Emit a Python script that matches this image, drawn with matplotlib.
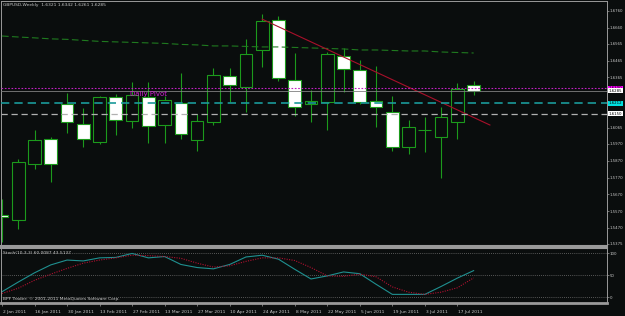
import matplotlib
matplotlib.use("Agg")
import matplotlib.pyplot as plt
from matplotlib.transforms import blended_transform_factory

# weekly GBPUSD bars, 2 Jan 2011 .. 24 Jul 2011
opens = [1.5547, 1.5517, 1.5850, 1.5999, 1.6207, 1.6088, 1.5981, 1.6249, 1.6106, 1.6249,
         1.6082, 1.6213, 1.5993, 1.6100, 1.6374, 1.6308, 1.6528, 1.6706, 1.6350, 1.6207,
         1.6219, 1.6492, 1.6409, 1.6225, 1.6160, 1.5951, 1.6053, 1.6011, 1.6100, 1.6321]
highs = [1.5642, 1.5880, 1.6053, 1.6011, 1.6272, 1.6183, 1.6255, 1.6267, 1.6338, 1.6338,
         1.6255, 1.6391, 1.6148, 1.6421, 1.6421, 1.6594, 1.6742, 1.6730, 1.6510, 1.6290,
         1.6516, 1.6540, 1.6469, 1.6433, 1.6255, 1.6112, 1.6130, 1.6189, 1.6332, 1.6342]
lows = [1.5387, 1.5464, 1.5821, 1.5743, 1.6035, 1.5951, 1.5969, 1.6023, 1.6064, 1.5975,
        1.5975, 1.5999, 1.5928, 1.6082, 1.6219, 1.6160, 1.6427, 1.6344, 1.6136, 1.6100,
        1.6053, 1.6278, 1.6207, 1.6070, 1.5928, 1.5910, 1.5922, 1.5767, 1.5999, 1.6261]
closes = [1.5535, 1.5862, 1.5993, 1.5850, 1.6100, 1.5999, 1.6249, 1.6112, 1.6261, 1.6076,
          1.6231, 1.6029, 1.6106, 1.6380, 1.6320, 1.6504, 1.6701, 1.6362, 1.6189, 1.6225,
          1.6504, 1.6415, 1.6219, 1.6189, 1.5951, 1.6070, 1.6053, 1.6130, 1.6296, 1.6285]

# long dashed green average
ma_line = [1.6611, 1.6605, 1.6600, 1.6594, 1.6591, 1.6585, 1.6579, 1.6576, 1.6573, 1.6570,
           1.6567, 1.6561, 1.6558, 1.6552, 1.6552, 1.6549, 1.6546, 1.6546, 1.6543, 1.6540,
           1.6537, 1.6534, 1.6528, 1.6528, 1.6525, 1.6522, 1.6522, 1.6516, 1.6513, 1.6510]

stoch_main = [12, 34, 55, 73, 84, 82, 89, 90, 99, 89, 92, 74, 67, 64, 74,
              91, 95, 86, 63, 41, 48, 57, 53, 29, 6, 6, 6, 24, 43, 60]
stoch_signal = [8, 20, 38, 52, 65, 77, 84, 89, 95, 94, 92, 88, 77, 68, 71,
                81, 89, 89, 83, 67, 48, 47, 52, 46, 23, 11, 6, 11, 21, 43.5]

date_idx = [0, 2, 4, 6, 8, 10, 12, 14, 16, 18, 20, 22, 24, 26, 28]
date_labels = ["2 Jan 2011", "16 Jan 2011", "30 Jan 2011", "13 Feb 2011", "27 Feb 2011",
               "13 Mar 2011", "27 Mar 2011", "10 Apr 2011", "24 Apr 2011", "8 May 2011",
               "22 May 2011", "5 Jun 2011", "19 Jun 2011", "3 Jul 2011", "17 Jul 2011"]

price_ticks = [1.6760, 1.6660, 1.6565, 1.6465, 1.6365, 1.6065, 1.5970, 1.5870,
               1.5770, 1.5670, 1.5570, 1.5470, 1.5375]

trend_x = [16, 30]
trend_y = [1.6711, 1.6082]

pivot = 1.6300
bid = 1.6285
cyan_level = 1.6212
white_level = 1.6150

BG = "#0a0d0d"
GREEN = "#1c9a1c"
GRID = "#9a9a9a"
TXT = "#c8c8c8"
FS = 3.2
FS_AX = 2.8


def main():
	fig = plt.figure(figsize=(6.25, 3.16), dpi=100, facecolor=BG)
	ax = fig.add_axes([1/625, 1-246/316, 606/625, 245/316], facecolor=BG)
	st = fig.add_axes([1/625, 13/316, 606/625, 55/316], facecolor=BG)

	x = list(range(len(opens)))

	# candles
	ax.vlines(x, lows, highs, color=GREEN, lw=0.8, zorder=2)
	bottoms = [min(o, c) for o, c in zip(opens, closes)]
	heights = [abs(c - o) for o, c in zip(opens, closes)]
	faces = ["white" if c < o else BG for o, c in zip(opens, closes)]
	ax.bar(x, heights, width=0.78, bottom=bottoms, color=faces,
		edgecolor=GREEN, linewidth=0.8, zorder=2.5)

	# lines drawn over the bars
	ax.plot(x, ma_line, color="#1f7a1f", lw=0.8, dashes=(6, 3), zorder=3)
	ax.plot(trend_x, trend_y, color="#a8102a", lw=0.8, zorder=3)
	ax.axhline(pivot, color="#c020c0", lw=0.8, ls=(0, (1.5, 1.5)), zorder=3)
	ax.axhline(bid, color="#808080", lw=0.6, zorder=3)
	ax.axhline(cyan_level, color="#1a9a9a", lw=1.2, dashes=(5, 3), zorder=3)
	ax.axhline(white_level, color="#b0b0b0", lw=0.9, dashes=(5, 3), zorder=3)
	ax.text(9, 1.6267, "Daily Pivot", color="#d020d0", fontsize=5,
		ha="center", va="center", zorder=4)

	ax.set_xlim(-0.06, 37.2)
	ax.set_ylim(1.5363, 1.6819)
	ax.yaxis.tick_right()
	ax.set_yticks(price_ticks)
	ax.set_yticklabels(["%.4f" % p for p in price_ticks])
	ax.set_xticks([])
	ax.tick_params(axis="y", colors=GRID, labelcolor=TXT, labelsize=FS_AX,
		length=1.5, width=0.5, pad=0.6)
	for s in ax.spines.values():
		s.set_color(GRID)
		s.set_linewidth(0.7)
	ax.spines["bottom"].set_linewidth(1.5)

	tr = blended_transform_factory(ax.transAxes, ax.transData)
	boxes = [(pivot, "#ff00ff"), (bid, "white"), (cyan_level, "#00e0e0"), (white_level, "white")]
	for val, col in boxes:
		ax.text(1.003, val, "%.4f" % val, transform=tr, fontsize=FS_AX, color="black",
			ha="left", va="center", zorder=5,
			bbox=dict(boxstyle="square,pad=0.1", fc=col, ec="none"))

	ax.text(0.003, 0.984, "GBPUSD,Weekly  %.4f %.4f %.4f %.4f" % (opens[-1], highs[-1], lows[-1], closes[-1]),
		transform=ax.transAxes, color=TXT, fontsize=FS, ha="left", va="center")

	# stochastic window
	for lv in [100, 50, 0]:
		st.axhline(lv, color="#707070", lw=0.6, ls=(0, (1, 1.5)))
	st.plot(x, stoch_main, color="#1f9090", lw=0.8)
	st.plot(x, stoch_signal, color="#b01030", lw=0.8, ls=(0, (1, 1.2)))
	st.set_xlim(-0.06, 37.2)
	st.set_ylim(-13.6, 111.4)
	st.yaxis.tick_right()
	st.set_yticks([100, 50, 0])
	st.set_yticklabels(["100", "50", "0"])
	st.set_xticks(date_idx)
	st.set_xticklabels([])
	st.tick_params(axis="y", colors=GRID, labelcolor=TXT, labelsize=FS_AX,
		length=1.5, width=0.5, pad=0.6)
	st.tick_params(axis="x", colors=GRID, length=2, width=0.5)
	for s in st.spines.values():
		s.set_color(GRID)
		s.set_linewidth(0.7)
	st.spines["top"].set_linewidth(1.5)
	st.spines["bottom"].set_linewidth(2)

	st.text(0.004, 0.91, "Stoch(10,3,3) 60.0087 43.5137", transform=st.transAxes,
		color=TXT, fontsize=FS, ha="left", va="center")
	st.text(0.004, 0.07, "BPF Trader: \u00a9 2001-2011 MetaQuotes Software Corp.",
		transform=st.transAxes, color=TXT, fontsize=FS, ha="left", va="center")

	dt = blended_transform_factory(st.transData, fig.transFigure)
	for i, lab in zip(date_idx, date_labels):
		st.text(i + 0.05, 1 - 312/316, lab, transform=dt, color=TXT,
			fontsize=FS, ha="left", va="center", clip_on=False)

	fig.savefig("out.png", dpi=100, facecolor=BG)


if __name__ == "__main__":
	main()
